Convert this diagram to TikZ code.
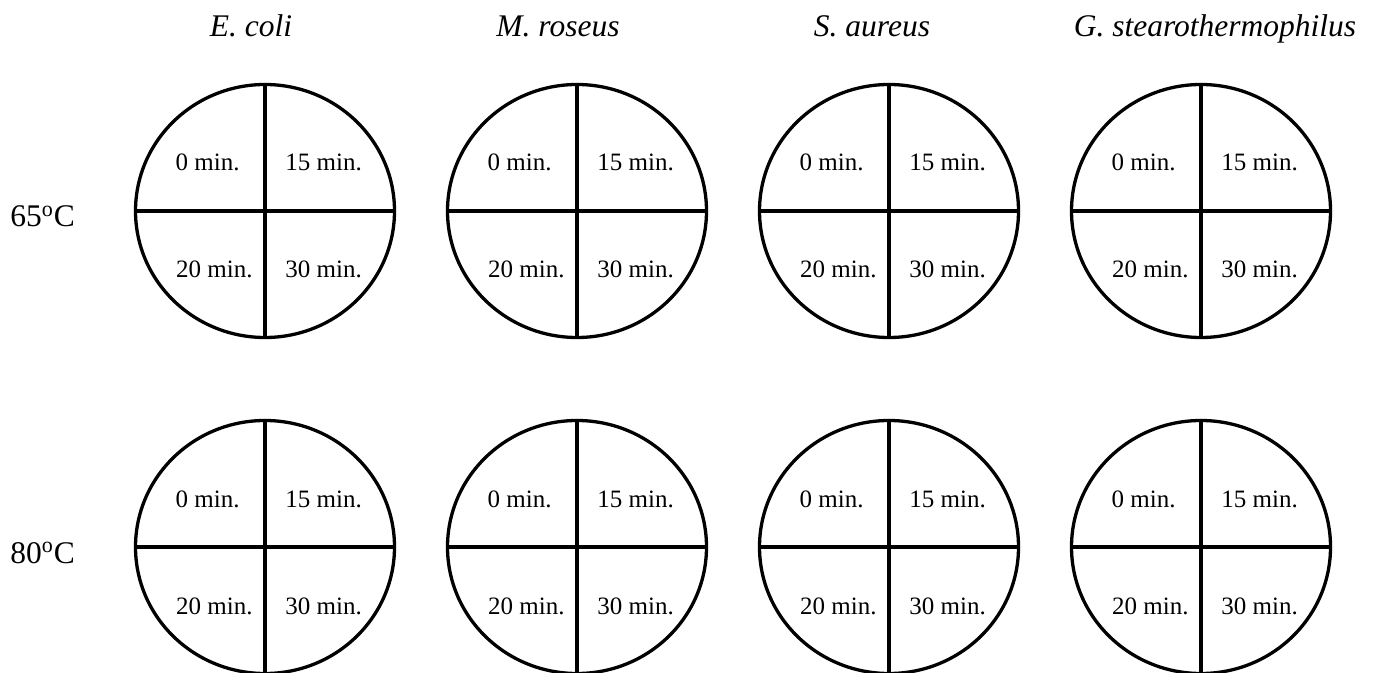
\documentclass[tikz,border=0pt]{standalone}
\usepackage{fontspec}
\setmainfont{Liberation Serif}
\usetikzlibrary{shapes.geometric}

\begin{document}
\begin{tikzpicture}[
    x=0.5pt, y=-0.5pt,
    plate/.style={
        draw,
        ellipse,
        line width=1.65pt,
        inner sep=0pt,
        outer sep=0pt,
        minimum width=129.5pt,
        minimum height=126.5pt
    },
    divider/.style={line width=1.65pt},
    timelbl/.style={inner sep=0pt, font=\fontsize{12.5}{15}\selectfont},
    headlbl/.style={inner sep=0pt, anchor=base, font=\fontsize{15.75}{19}\selectfont\itshape},
    templbl/.style={inner sep=0pt, anchor=base west, font=\fontsize{15.75}{19}\selectfont}
]

\useasboundingbox (0,0) rectangle (1374,673);

% species headings
\node[headlbl] (h1) at (251,37) {E. coli};
\node[headlbl] (h2) at (558,37) {M. roseus};
\node[headlbl] (h3) at (872,37) {S. aureus};
\node[headlbl] (h4) at (1215,37) {G. stearothermophilus};

% temperatures
\node[templbl] (t1) at (10,227) {65\textsuperscript{o}C};
\node[templbl] (t2) at (10,563) {80\textsuperscript{o}C};

% plates, split in four
\foreach \r/\y in {1/211, 2/547} {
    \foreach \c/\x in {1/265, 2/577, 3/889, 4/1201} {
        \node[plate] (p\r\c) at (\x,\y) {};
        \draw[divider] (p\r\c.north) -- (p\r\c.south);
        \draw[divider] (p\r\c.west) -- (p\r\c.east);
        \node[timelbl, anchor=base east] (p\r\c-a) at ([shift={(-25,-40)}]p\r\c.center) {0 min.};
        \node[timelbl, anchor=base west] (p\r\c-b) at ([shift={(20,-40)}]p\r\c.center) {15 min.};
        \node[timelbl, anchor=base east] (p\r\c-c) at ([shift={(-12,67)}]p\r\c.center) {20 min.};
        \node[timelbl, anchor=base west] (p\r\c-d) at ([shift={(20,67)}]p\r\c.center) {30 min.};
    }
}

\end{tikzpicture}
\end{document}
